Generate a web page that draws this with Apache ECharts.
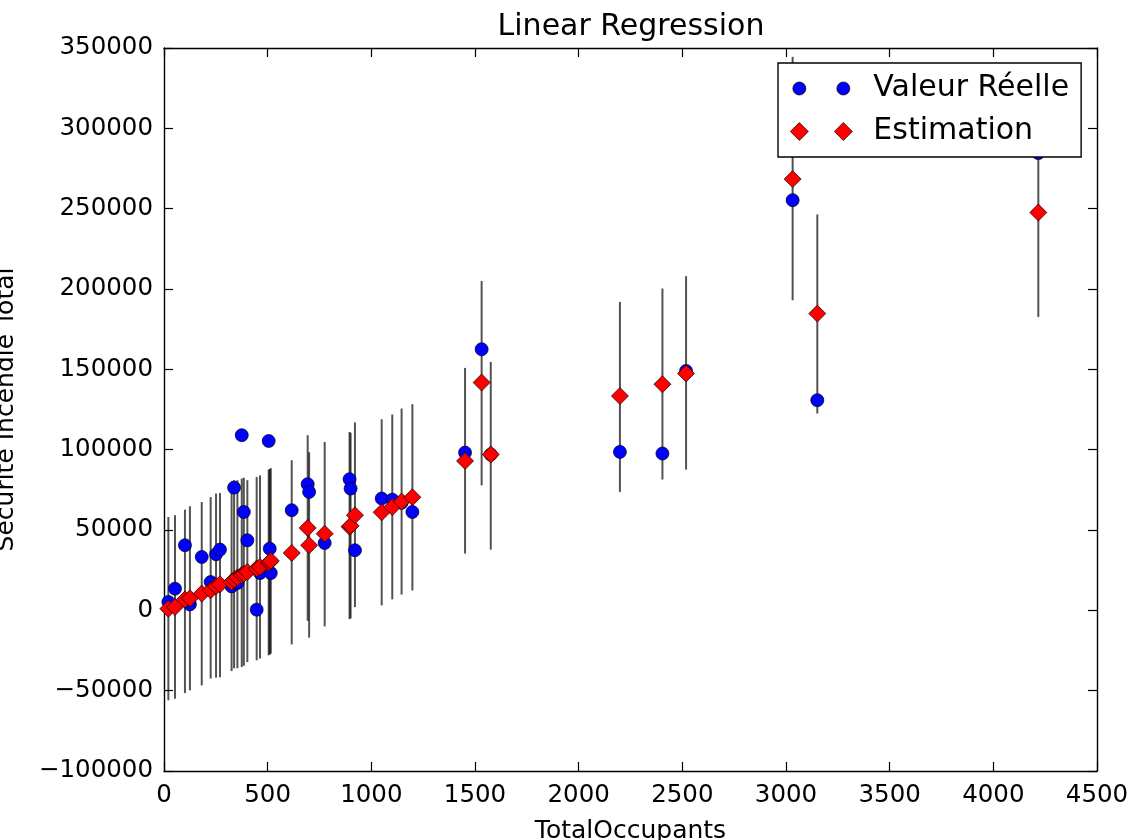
<!DOCTYPE html>
<html><head><meta charset="utf-8">
<script src="https://cdn.jsdelivr.net/npm/echarts@6/dist/echarts.min.js"></script>
<style>html,body{margin:0;padding:0;background:#fff}#c{width:1131px;height:840px}</style>
</head><body><div id="c"></div>
<script>
// ---- data ----
const occupants    = [21, 53, 101, 125, 182, 225, 251, 270, 326, 338, 354, 375, 385, 402, 447, 463, 505, 510, 515,
                      616, 693, 700, 775, 895, 900, 921, 1050, 1101, 1146, 1198, 1452, 1532, 1576, 2199, 2404, 2518, 3032, 3151, 4217];
const valeurReelle = [5200, 13500, 40500, 3700, 33200, 17600, 34900, 37800, 14900, 76400, 17000, 109000, 61200, 43600, 400, 23200, 105400, 38400, 23200,
                      62300, 78500, 73700, 41900, 81600, 75800, 37400, 69600, 68900, 67000, 61200, 98200, 162500, 97000, 98600, 97600, 149000, 255300, 130800, 284600];
const estimation   = [1000, 2100, 6700, 7500, 10400, 12500, 15000, 16200, 17600, 19000, 20500, 22000, 22800, 23900, 26000, 27000, 29500, 30100, 30800,
                      35700, 51300, 40500, 47700, 52000, 52600, 59200, 61000, 64300, 67700, 70400, 93000, 141800, 97000, 133400, 140700, 147400, 268400, 184700, 247600];
const intervalLow  = [-56000, -55000, -51500, -49800, -46700, -42500, -41900, -41700, -37800, -36100, -36000, -35300, -34500, -32200, -31100, -30000, -28000, -27500, -27000,
                      -21200, -6500, -17000, -10000, -5500, -5000, 2000, 3100, 6800, 9800, 12400, 35300, 77800, 37800, 73700, 81400, 87600, 193000, 122500, 182600];
const intervalHigh = [58100, 59200, 62700, 64800, 67400, 70500, 72700, 73000, 79300, 81000, 81000, 82000, 82500, 81000, 83000, 84000, 87600, 88000, 88500,
                      93400, 109000, 98400, 104800, 111000, 110500, 117000, 118900, 121900, 125600, 128300, 150900, 205000, 154600, 192000, 200300, 208000, 344500, 246400, 313000];
const xMin = 0, xMax = 4500, xStep = 500;
const yMin = -100000, yMax = 350000, yStep = 50000;
const labels = { title: 'Linear Regression', x: 'TotalOccupants', y: 'Sécurité Incendie Total', real: 'Valeur Réelle', est: 'Estimation' };

const FONT = 'DejaVu Sans';
const realPts = occupants.map((x, i) => [x, valeurReelle[i]]);
const estPts = occupants.map((x, i) => [x, estimation[i]]);
const barPts = occupants.map((x, i) => [x, intervalLow[i], intervalHigh[i]]);

const circleIcon = 'path://M2.5,9 A6.5,6.5 0 1,1 15.5,9 A6.5,6.5 0 1,1 2.5,9 Z M46.5,9 A6.5,6.5 0 1,1 59.5,9 A6.5,6.5 0 1,1 46.5,9 Z M0,0 L0,0 M62,18 L62,18';
const diamondIcon = 'path://M0,9 L9,0 L18,9 L9,18 Z M44,9 L53,0 L62,9 L53,18 Z';

const axisCommon = {
  type: 'value',
  axisLine: { show: true, onZero: false, lineStyle: { color: '#000', width: 1.4 } },
  axisTick: { show: true, inside: true, length: 9, lineStyle: { color: '#000', width: 1.2 } },
  splitLine: { show: false }
};

const chart = echarts.init(document.getElementById('c'), null, { renderer: 'canvas' });
chart.setOption({
  animation: false,
  backgroundColor: '#fff',
  title: {
    text: labels.title, left: 631, textAlign: 'center', top: 12, padding: 0,
    textStyle: { fontFamily: FONT, fontSize: 30, fontWeight: 'normal', color: '#000' }
  },
  legend: {
    orient: 'vertical', left: 778, top: 63, padding: [10, 12, 10, 12], itemGap: 12,
    itemWidth: 62, itemHeight: 18, selectedMode: false,
    backgroundColor: '#fff', borderColor: '#000', borderWidth: 1.4, borderRadius: 0,
    textStyle: { fontFamily: FONT, fontSize: 30, color: '#000', lineHeight: 31, padding: [0, 0, 0, 16] },
    data: [
      { name: labels.real, icon: circleIcon, itemStyle: { color: '#0000ff', borderColor: '#000', borderWidth: 0.7 } },
      { name: labels.est, icon: diamondIcon, itemStyle: { color: '#ff0000', borderColor: '#000', borderWidth: 0.7 } }
    ]
  },
  grid: { left: 164, top: 48, width: 933, height: 723, containLabel: false, outerBoundsMode: 'none' },
  xAxis: [
    Object.assign({}, axisCommon, {
      min: xMin, max: xMax, interval: xStep, position: 'bottom',
      name: labels.x, nameLocation: 'middle', nameGap: 48, nameMoveOverlap: false,
      nameTextStyle: { fontFamily: FONT, fontSize: 25, color: '#000' },
      axisLabel: { fontFamily: FONT, fontSize: 24.5, color: '#000', margin: 12, formatter: v => String(v) }
    }),
    Object.assign({}, axisCommon, {
      min: xMin, max: xMax, interval: xStep, position: 'top', axisLabel: { show: false }
    })
  ],
  yAxis: [
    Object.assign({}, axisCommon, {
      min: yMin, max: yMax, interval: yStep, position: 'left',
      name: labels.y, nameLocation: 'middle', nameGap: 145, nameRotate: 90, nameMoveOverlap: false,
      nameTextStyle: { fontFamily: FONT, fontSize: 25, color: '#000' },
      axisLabel: { fontFamily: FONT, fontSize: 24.5, color: '#000', margin: 11,
        formatter: v => String(v).replace('-', '\u2212') }
    }),
    Object.assign({}, axisCommon, {
      min: yMin, max: yMax, interval: yStep, position: 'right', axisLabel: { show: false }
    })
  ],
  series: [
    {
      type: 'custom', name: 'interval', xAxisIndex: 0, yAxisIndex: 0, z: 1,
      data: barPts,
      encode: { x: 0, y: [1, 2] },
      renderItem: function (params, api) {
        const x = api.value(0);
        const p1 = api.coord([x, api.value(1)]);
        const p2 = api.coord([x, api.value(2)]);
        return { type: 'line', shape: { x1: p1[0], y1: p1[1], x2: p2[0], y2: p2[1] },
                 style: { stroke: 'rgba(0,0,0,0.68)', lineWidth: 2 } };
      }
    },
    {
      type: 'scatter', name: labels.real, xAxisIndex: 0, yAxisIndex: 0, z: 2,
      symbol: 'circle', symbolSize: 13, data: realPts,
      itemStyle: { color: '#0000ff', borderColor: '#000', borderWidth: 0.7, opacity: 1 }
    },
    {
      type: 'scatter', name: labels.est, xAxisIndex: 0, yAxisIndex: 0, z: 3,
      symbol: 'diamond', symbolSize: 17, data: estPts,
      itemStyle: { color: '#ff0000', borderColor: '#000', borderWidth: 0.7, opacity: 1 }
    }
  ]
});
</script>
</body></html>
